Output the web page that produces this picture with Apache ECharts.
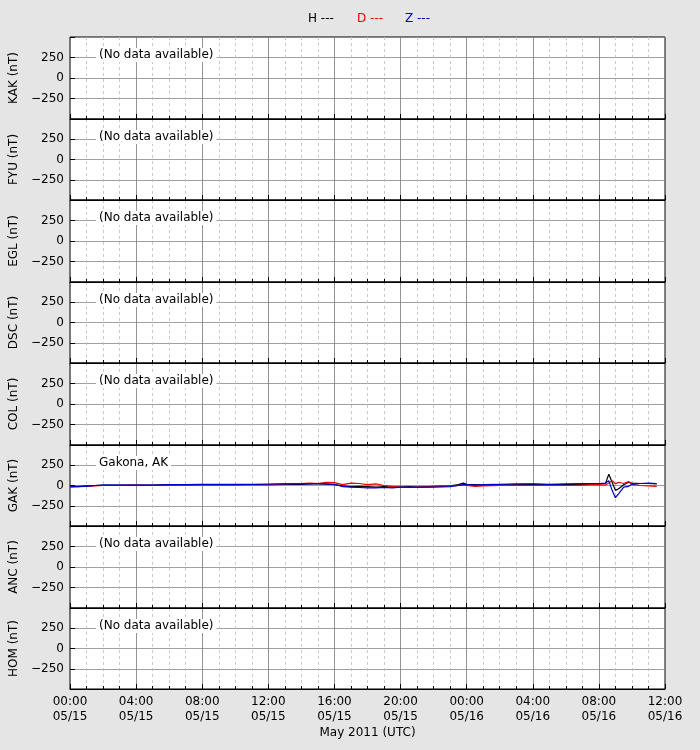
<!DOCTYPE html>
<html>
<head>
<meta charset="utf-8">
<script src="https://cdn.jsdelivr.net/npm/echarts@6/dist/echarts.min.js"></script>
<style>
  body { margin: 0; background: #e5e5e5; }
  #chart { width: 700px; height: 750px; }
</style>
</head>
<body>
<div id="chart"></div>
<script>
// 台站名称
var stations = ['KAK', 'FYU', 'EGL', 'DSC', 'COL', 'GAK', 'ANC', 'HOM'];
var stationNotes = ['(No data available)', '(No data available)', '(No data available)', '(No data available)',
    '(No data available)', 'Gakona, AK', '(No data available)', '(No data available)'];

// GAK 时间（从 05/15 00:00 起的小时数）
var gakHours = [0, 0.5, 1, 1.5, 2, 3, 4, 5, 6, 7, 8, 9, 10, 11, 12, 13, 14, 14.5, 15, 15.5, 16, 16.5, 17, 17.5,
    18, 18.5, 19, 19.5, 20, 20.5, 21, 22, 23, 23.5, 23.8, 24, 24.5, 25, 26, 27, 28, 29, 30, 31, 32, 32.4,
    32.6, 32.8, 33, 33.2, 33.5, 33.8, 34, 34.5, 35, 35.5];
// H 分量
var gakH = [-10, -15, -5, 0, 5, 5, 5, 5, 8, 10, 10, 12, 10, 10, 12, 15, 15, 20, 20, 18, 10, -5, -15, -10,
    -15, -20, -15, -20, -20, -15, -20, -10, -5, 10, 30, 15, 10, 5, 5, 10, 15, 10, 10, 15, 20, 25,
    140, 40, -60, -40, 10, 40, 30, 25, 25, 20];
// D 分量
var gakD = [-20, -15, -10, -5, 0, 0, 5, 0, 5, 5, 5, 5, 5, 10, 10, 20, 25, 30, 25, 40, 35, 10, 30, 25,
    10, 20, 0, -10, -20, -25, -20, -15, -5, 0, 5, 0, -10, -5, 0, 5, 0, 5, 0, 5, 10, 5,
    30, 60, 20, 40, 25, 50, 10, 0, -5, -10];
// Z 分量
var gakZ = [-15, -10, -10, 0, 5, 5, 5, 5, 10, 12, 15, 15, 15, 15, 18, 20, 20, 20, 25, 20, 15, -15, -20, -25,
    -30, -30, -25, -30, -20, -20, -20, -20, -15, 0, 15, 10, 5, 10, 15, 20, 20, 15, 20, 25, 25, 30,
    60, -60, -150, -100, -20, -10, 15, 25, 30, 25];

function pairs(xs, ys) {
    return xs.map(function (x, i) { return [x, ys[i]]; });
}

var chart = echarts.init(document.getElementById('chart'));
var top0 = 37, panelH = 81.5;
var grids = [], xAxes = [], yAxes = [], series = [], graphics = [];

stations.forEach(function (name, i) {
    var last = i === stations.length - 1;
    var t = Math.round(top0 + panelH * i), b = Math.round(top0 + panelH * (i + 1));
    grids.push({
        left: 70, right: 35, top: t, height: b - t,
        show: true, backgroundColor: '#fff', borderColor: '#000', borderWidth: 1
    });
    xAxes.push({
        type: 'value', gridIndex: i, min: 0, max: 36, interval: 4,
        axisLine: { show: true, onZero: false, lineStyle: { color: '#000' } },
        axisTick: { inside: true, length: 5, lineStyle: { color: '#000' } },
        minorTick: { show: true, splitNumber: 4, length: 3, lineStyle: { color: '#000' } },
        splitLine: { show: true, lineStyle: { color: '#777', width: 0.8 } },
        minorSplitLine: { show: true, lineStyle: { color: '#bbb', type: [3, 3], width: 0.8 } },
        axisLabel: {
            show: last, color: '#000', fontSize: 12, lineHeight: 15, margin: 5,
            fontFamily: 'DejaVu Sans',
            formatter: function (v) {
                var h = v % 24;
                return (h < 10 ? '0' : '') + h + ':00\n' + (v < 24 ? '05/15' : '05/16');
            }
        },
        name: last ? 'May 2011 (UTC)' : '', nameLocation: 'middle', nameGap: 38,
        nameTextStyle: { color: '#000', fontSize: 12, fontFamily: 'DejaVu Sans' }
    });
    yAxes.push({
        type: 'value', gridIndex: i, min: -500, max: 500, interval: 250,
        axisLine: { show: false },
        axisTick: { inside: true, length: 5, lineStyle: { color: '#000' } },
        splitLine: { show: true, lineStyle: { color: '#888', width: 0.8 } },
        axisLabel: {
            color: '#000', fontSize: 12, fontFamily: 'DejaVu Sans', margin: 6,
            formatter: function (v) {
                if (Math.abs(v) === 500) return '';
                return v < 0 ? '\u2212' + (-v) : String(v);
            }
        },
        name: name + ' (nT)', nameLocation: 'middle', nameGap: 40, nameRotate: 90,
        nameTextStyle: { color: '#000', fontSize: 12, fontFamily: 'DejaVu Sans' }
    });
    graphics.push({
        type: 'text', left: 96, top: t + 11, z: 100,
        style: {
            text: stationNotes[i], fill: '#000', fontSize: 12, fontFamily: 'DejaVu Sans',
            backgroundColor: '#fff', padding: [1, 3]
        }
    });
});

// 只有 GAK 有数据
var gi = stations.indexOf('GAK');
[['H', gakH, '#000'], ['D', gakD, '#e00'], ['Z', gakZ, '#00c']].forEach(function (s) {
    series.push({
        name: s[0], type: 'line', xAxisIndex: gi, yAxisIndex: gi,
        data: pairs(gakHours, s[1]), showSymbol: false, silent: true,
        lineStyle: { color: s[2], width: 1.2 }
    });
});

// 顶部图例
[['H ---', '#000', 308], ['D ---', '#e00', 357], ['Z ---', '#00c', 405]].forEach(function (l) {
    graphics.push({
        type: 'text', left: l[2], top: 13,
        style: { text: l[0], fill: l[1], fontSize: 12, fontFamily: 'DejaVu Sans' }
    });
});

chart.setOption({
    backgroundColor: '#e5e5e5',
    animation: false,
    grid: grids,
    xAxis: xAxes,
    yAxis: yAxes,
    series: series,
    graphic: graphics
});
</script>
</body>
</html>
